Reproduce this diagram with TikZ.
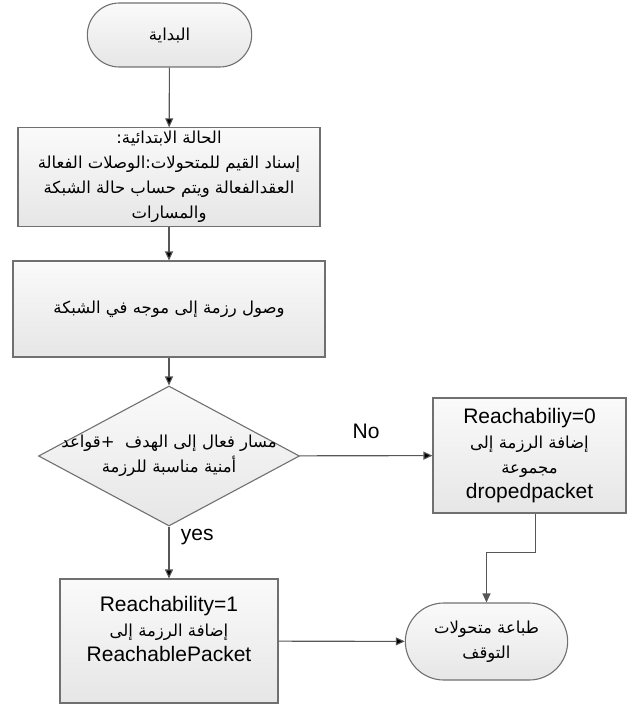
\documentclass[tikz,border=0pt]{standalone}
\usepackage{fontspec}
\setmainfont{Liberation Sans}
\newfontfamily\arabicfont[Script=Arabic]{DejaVu Sans}
\TeXXeTstate=1
\usetikzlibrary{shapes.geometric,shapes.misc,arrows.meta}

\definecolor{boxline}{HTML}{707070}
\definecolor{linkline}{HTML}{575757}
\definecolor{boxtop}{HTML}{FAFAFA}
\definecolor{boxbottom}{HTML}{E6E6E6}

\newcommand{\artext}[1]{{\arabicfont\fontsize{16.5}{25}\selectfont\beginR #1\endR}}

\begin{document}
\begin{tikzpicture}[%
        x=1pt, y=-1pt,
        >={Triangle[length=9pt,width=8pt]},
        every node/.style={font=\fontsize{21}{25}\selectfont},
        shaded/.style={draw=boxline, line width=1.1pt, top color=boxtop, bottom color=boxbottom},
        terminal/.style={shaded, rounded rectangle, align=center},
        process/.style={shaded, rectangle, align=center},
        decision/.style={shaded, diamond, inner sep=0pt},
        link/.style={draw=linkline, line width=1.1pt}
    ]
    \useasboundingbox (0,0) rectangle (627,706);

    \node[terminal, minimum width=171pt, minimum height=64pt] (start) at (169.5,35)
        {\artext{البداية}};
    \node[process, minimum width=302pt, minimum height=96pt] (init) at (169,177)
        {\artext{الحالة الابتدائية:}\\
         \artext{إسناد القيم للمتحولات:الوصلات الفعالة}\\
         \artext{العقدالفعالة ويتم حساب حالة الشبكة}\\
         \artext{والمسارات}};
    \node[process, minimum width=312pt, minimum height=96pt] (arrive) at (169,309)
        {\artext{وصول رزمة إلى موجه في الشبكة}};
    \node[decision, minimum width=261pt, minimum height=140pt,
          label={[align=center]center:\artext{مسار فعال إلى الهدف\ \ +قواعد}\\
                 \artext{أمنية مناسبة للرزمة}}] (test) at (169,456) {};
    \node[process, minimum width=193pt, minimum height=115pt] (dropbox) at (529.5,455.5)
        {Reachabiliy=0\\
         \artext{إضافة الرزمة إلى}\\
         \artext{مجموعة}\\
         dropedpacket};
    \node[process, minimum width=218pt, minimum height=124pt] (reachbox) at (169,641)
        {Reachability=1\\
         \artext{إضافة الرزمة إلى}\\
         ReachablePacket\\
         \mbox{}};
    \node[terminal, minimum width=169pt, minimum height=77pt] (stop) at (486.5,641.5)
        {\artext{طباعة متحولات}\\
         \artext{التوقف}};

    \path[link]
    (start)     edge[->]    (init)
    (init)      edge[->]    (arrive)
    (arrive)    edge[->]    (test)
    (test)      edge[->]    node[above=13pt] {No} (dropbox)
    (test)      edge[->]    node[pos=0.2, right=8pt] {yes} (reachbox)
    (reachbox)  edge[->]    (stop);

    \draw[link, ->] ([xshift=6pt]dropbox.south) -- ++(0,39) -| (stop.north);
\end{tikzpicture}
\end{document}
